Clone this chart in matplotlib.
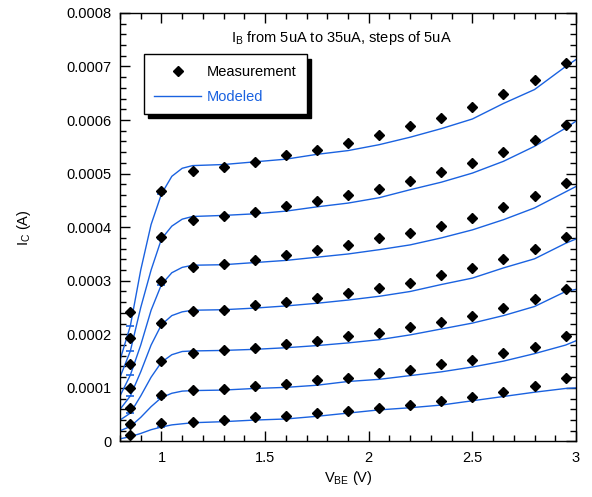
import matplotlib
matplotlib.use("Agg")
import matplotlib.pyplot as plt
from matplotlib.ticker import MultipleLocator, FixedLocator, FixedFormatter
from matplotlib.lines import Line2D

plt.rcParams['font.family'] = ['Liberation Sans', 'DejaVu Sans']

# Measurement data (IC in units of 1e-4 A)
vbe_meas = [0.85, 1.0, 1.15, 1.3, 1.45, 1.6, 1.75, 1.9, 2.05, 2.2, 2.35, 2.5, 2.65, 2.8, 2.95]
meas_35 = [2.41, 4.68, 5.05, 5.12, 5.22, 5.34, 5.45, 5.57, 5.72, 5.88, 6.04, 6.25, 6.49, 6.74, 7.06]
meas_30 = [1.93, 3.81, 4.14, 4.20, 4.28, 4.39, 4.49, 4.61, 4.72, 4.86, 5.03, 5.19, 5.41, 5.62, 5.90]
meas_25 = [1.44, 2.99, 3.25, 3.31, 3.39, 3.48, 3.58, 3.67, 3.79, 3.90, 4.02, 4.18, 4.37, 4.59, 4.82]
meas_20 = [0.99, 2.21, 2.43, 2.46, 2.55, 2.61, 2.68, 2.77, 2.87, 2.96, 3.11, 3.24, 3.41, 3.60, 3.81]
meas_15 = [0.63, 1.51, 1.66, 1.70, 1.75, 1.82, 1.88, 1.96, 2.02, 2.13, 2.23, 2.35, 2.50, 2.66, 2.84]
meas_10 = [0.33, 0.86, 0.96, 0.98, 1.04, 1.07, 1.15, 1.19, 1.27, 1.34, 1.44, 1.52, 1.65, 1.77, 1.96]
meas_5 = [0.13, 0.34, 0.36, 0.40, 0.45, 0.48, 0.54, 0.57, 0.62, 0.69, 0.76, 0.83, 0.93, 1.04, 1.18]

# Modeled data (IC in units of 1e-4 A)
vbe_model = [0.8, 0.85, 0.9, 0.95, 1.0, 1.05, 1.1, 1.15, 1.3, 1.45, 1.6, 1.75, 1.9,
             2.05, 2.2, 2.35, 2.5, 2.65, 2.8, 2.95, 3.0]
model_35 = [1.52, 2.16, 3.20, 4.05, 4.62, 4.95, 5.10, 5.15, 5.17, 5.22, 5.27, 5.36, 5.43,
            5.54, 5.68, 5.84, 6.02, 6.31, 6.57, 7.00, 7.13]
model_30 = [1.20, 1.69, 2.50, 3.20, 3.78, 4.02, 4.15, 4.20, 4.22, 4.25, 4.30, 4.38, 4.45,
            4.55, 4.70, 4.84, 5.01, 5.23, 5.51, 5.85, 5.98]
model_25 = [0.85, 1.24, 1.80, 2.45, 2.93, 3.15, 3.25, 3.29, 3.30, 3.34, 3.38, 3.44, 3.50,
            3.58, 3.67, 3.80, 3.95, 4.14, 4.36, 4.66, 4.76]
model_20 = [0.60, 0.85, 1.30, 1.80, 2.18, 2.35, 2.42, 2.45, 2.46, 2.49, 2.53, 2.58, 2.64,
            2.71, 2.80, 2.93, 3.05, 3.24, 3.41, 3.70, 3.78]
model_15 = [0.40, 0.53, 0.85, 1.20, 1.48, 1.62, 1.68, 1.69, 1.70, 1.72, 1.75, 1.79, 1.84,
            1.90, 1.99, 2.10, 2.21, 2.35, 2.52, 2.80, 2.84]
model_10 = [0.20, 0.28, 0.45, 0.65, 0.82, 0.90, 0.94, 0.95, 0.96, 0.99, 1.01, 1.05, 1.12,
            1.16, 1.23, 1.30, 1.39, 1.50, 1.64, 1.80, 1.88]
model_5 = [0.05, 0.09, 0.15, 0.22, 0.27, 0.31, 0.33, 0.35, 0.37, 0.40, 0.42, 0.47, 0.53,
           0.59, 0.63, 0.68, 0.76, 0.84, 0.92, 0.99, 1.00]

meas_all = [meas_5, meas_10, meas_15, meas_20, meas_25, meas_30, meas_35]
model_all = [model_5, model_10, model_15, model_20, model_25, model_30, model_35]

y_ticks = [0, 0.0001, 0.0002, 0.0003, 0.0004, 0.0005, 0.0006, 0.0007, 0.0008]
y_ticklabels = ['0', '0.0001', '0.0002', '0.0003', '0.0004', '0.0005', '0.0006', '0.0007', '0.0008']
x_ticks = [1, 1.5, 2, 2.5, 3]
x_ticklabels = ['1', '1.5', '2', '2.5', '3']

SCALE = 1e-4
BLUE = '#1a62e0'

fig = plt.figure(figsize=(5.92, 4.97), dpi=100)
ax = fig.add_axes([0.2027, 0.1117, 0.7703, 0.8623])

for ms, md in zip(meas_all, model_all):
    ax.plot(vbe_model, [v * SCALE for v in md], color=BLUE, lw=1.0,
            marker='_', markersize=6, markeredgewidth=1.2, markevery=[1, 4],
            zorder=2)
    ax.plot(vbe_meas, [v * SCALE for v in ms], linestyle='none', marker='D',
            markersize=5.2, color='black', zorder=3)

ax.set_xlim(0.8, 3.0)
ax.set_ylim(0, 0.0008)
ax.xaxis.set_major_locator(FixedLocator(x_ticks))
ax.xaxis.set_major_formatter(FixedFormatter(x_ticklabels))
ax.xaxis.set_minor_locator(MultipleLocator(0.1))
ax.yaxis.set_major_locator(FixedLocator(y_ticks))
ax.yaxis.set_major_formatter(FixedFormatter(y_ticklabels))
ax.yaxis.set_minor_locator(MultipleLocator(0.00002))
ax.tick_params(which='both', direction='in', top=True, right=True, labelsize=10.5, colors='black')
ax.tick_params(which='major', length=7, width=1)
ax.tick_params(which='minor', length=4, width=1)
ax.tick_params(axis='x', pad=7)
ax.tick_params(axis='y', pad=6)
for s in ax.spines.values():
    s.set_linewidth(1.0)

ax.set_xlabel(r'V$_{\mathregular{BE}}$ (V)', fontsize=10.5, labelpad=3)
ax.set_ylabel(r'I$_{\mathregular{C}}$ (A)', fontsize=10.5, labelpad=24)

ax.text(0.485, 0.962, r'I$_{\mathregular{B}}$ from 5uA to 35uA, steps of 5uA',
        transform=ax.transAxes, ha='center', va='top', fontsize=10.5)

h_meas = Line2D([], [], linestyle='none', marker='D', markersize=5.2, color='black')
h_model = Line2D([], [], color=BLUE, lw=1.0)
leg = ax.legend([h_meas, h_model], ['Measurement', 'Modeled'],
                loc='upper left', bbox_to_anchor=(0.037, 0.92), fontsize=10.5,
                frameon=True, fancybox=False, shadow={'color': 'black', 'alpha': 1.0, 'ox': 3, 'oy': -3},
                edgecolor='black', framealpha=1.0, borderpad=0.7, handlelength=3.2,
                labelspacing=0.75, handletextpad=0.4)
leg.get_frame().set_linewidth(1.0)
leg.get_texts()[1].set_color(BLUE)

fig.savefig('out.png', dpi=100)
